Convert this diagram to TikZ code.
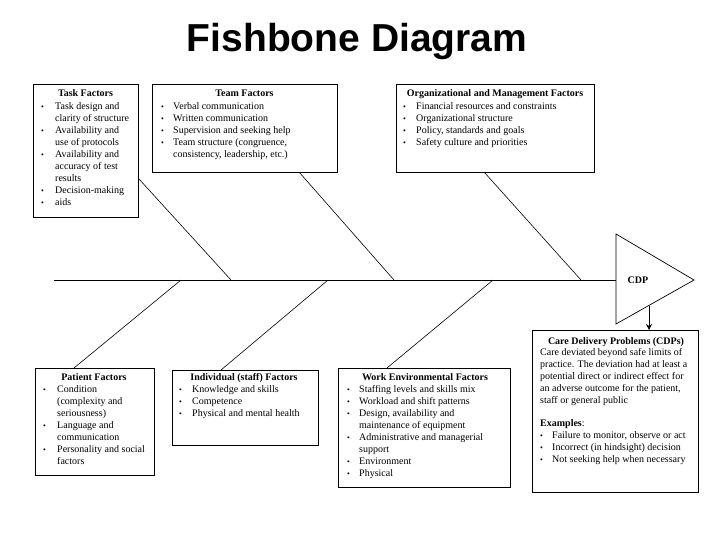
\documentclass[tikz,border=0pt]{standalone}
\usepackage{fontspec}
\setmainfont{Liberation Serif}
\newfontfamily\titlefont{Liberation Sans}
\usetikzlibrary{arrows.meta}
\newcommand\bu{{\fontsize{8}{12}\selectfont\textbullet}}
\begin{document}
\begin{tikzpicture}[x=1pt,y=-1pt,
  factorbox/.style={draw, line width=0.9pt, anchor=north west, inner sep=0pt, outer sep=0pt},
  bone/.style={line width=0.6pt},
  head/.style={anchor=base, inner sep=0pt, font=\fontsize{10}{12}\selectfont\bfseries},
  lst/.style={anchor=north west, inner sep=0pt, font=\fontsize{10}{12}\selectfont, align=left},
]
\useasboundingbox (0,0) rectangle (720,540);

% title
\node[anchor=base, inner sep=0pt, font=\titlefont\bfseries\fontsize{39}{40}\selectfont] (title) at (357,52) {Fishbone Diagram};

% spine and head
\coordinate (spinestart) at (54,280);
\coordinate (spineend) at (616,280);
\coordinate (tri1) at (616,234);
\coordinate (tip) at (694,280);
\coordinate (tri3) at (616,324);
\draw[bone] (spinestart) -- (spineend);
\draw[line width=0.7pt] (tri1) -- (tip) -- (tri3) -- cycle;
\node[font=\fontsize{10}{12}\selectfont\bfseries, inner sep=0pt] (cdplabel) at (638,280) {CDP};

% boxes
\node[factorbox, minimum width=105pt, minimum height=133pt] (task) at (33,84) {};
\node[factorbox, minimum width=185pt, minimum height=88pt] (team) at (152,84) {};
\node[factorbox, minimum width=198pt, minimum height=88pt] (org) at (396,84) {};
\node[factorbox, minimum width=119pt, minimum height=107pt] (patient) at (35,368) {};
\node[factorbox, minimum width=146pt, minimum height=75pt] (indiv) at (172,370) {};
\node[factorbox, minimum width=172pt, minimum height=119pt] (work) at (338,368) {};
\node[factorbox, minimum width=166pt, minimum height=162pt] (cdpbox) at (532,330) {};

% headings
\node[head] (taskhead) at (85.5,96.5) {Task Factors};
\node[head] (teamhead) at (244.5,96.5) {Team Factors};
\node[head] (orghead) at (495,96.5) {Organizational and Management Factors};
\node[head] (patienthead) at (94,380.5) {Patient Factors};
\node[head] (indivhead) at (244,380.5) {Individual (staff) Factors};
\node[head] (workhead) at (425,380.5) {Work Environmental Factors};
\node[head] (cdphead) at (616,344.5) {Care Delivery Problems (CDPs)};

% lists
\node[lst] (tasklist) at (41,100.6) {\begin{tabular}{@{}p{14pt}@{}l@{}}
\bu & Task design and\\
 & clarity of structure\\
\bu & Availability and\\
 & use of protocols\\
\bu & Availability and\\
 & accuracy of test\\
 & results\\
\bu & Decision-making\\
\bu & aids
\end{tabular}};

\node[lst] (teamlist) at (161,100.6) {\begin{tabular}{@{}p{12pt}@{}l@{}}
\bu & Verbal communication\\
\bu & Written communication\\
\bu & Supervision and seeking help\\
\bu & Team structure (congruence,\\
 & consistency, leadership, etc.)
\end{tabular}};

\node[lst] (orglist) at (403,100.6) {\begin{tabular}{@{}p{13pt}@{}l@{}}
\bu & Financial resources and constraints\\
\bu & Organizational structure\\
\bu & Policy, standards and goals\\
\bu & Safety culture and priorities
\end{tabular}};

\node[lst] (patientlist) at (43,383.6) {\begin{tabular}{@{}p{14pt}@{}l@{}}
\bu & Condition\\
 & (complexity and\\
 & seriousness)\\
\bu & Language and\\
 & communication\\
\bu & Personality and social\\
 & factors
\end{tabular}};

\node[lst] (indivlist) at (179,383.6) {\begin{tabular}{@{}p{13pt}@{}l@{}}
\bu & Knowledge and skills\\
\bu & Competence\\
\bu & Physical and mental health
\end{tabular}};

\node[lst] (worklist) at (347,383.6) {\begin{tabular}{@{}p{12pt}@{}l@{}}
\bu & Staffing levels and skills mix\\
\bu & Workload and shift patterns\\
\bu & Design, availability and\\
 & maintenance of equipment\\
\bu & Administrative and managerial\\
 & support\\
\bu & Environment\\
\bu & Physical
\end{tabular}};

\node[lst] (cdplist) at (540,346.6) {\begin{tabular}{@{}p{12pt}@{}l@{}}
\multicolumn{2}{@{}l@{}}{Care deviated beyond safe limits of}\\
\multicolumn{2}{@{}l@{}}{practice. The deviation had at least a}\\
\multicolumn{2}{@{}l@{}}{potential direct or indirect effect for}\\
\multicolumn{2}{@{}l@{}}{an adverse outcome for the patient,}\\
\multicolumn{2}{@{}l@{}}{staff or general public}\\[11pt]
\multicolumn{2}{@{}l@{}}{\textbf{Examples}:}\\
\bu & Failure to monitor, observe or act\\
\bu & Incorrect (in hindsight) decision\\
\bu & Not seeking help when necessary
\end{tabular}};

% bones
\coordinate (t1) at (139,179);  \coordinate (j1) at (231,280);
\coordinate (t2) at (299,172);  \coordinate (j2) at (394,280);
\coordinate (t3) at (484,172);  \coordinate (j3) at (581,280);
\coordinate (b1) at (74,368);   \coordinate (k1) at (181,280);
\coordinate (b2) at (221,370);  \coordinate (k2) at (328,280);
\coordinate (b3) at (387,368);  \coordinate (k3) at (493,280);
\draw[bone] (t1) -- (j1);
\draw[bone] (t2) -- (j2);
\draw[bone] (t3) -- (j3);
\draw[bone] (k1) -- (b1);
\draw[bone] (k2) -- (b2);
\draw[bone] (k3) -- (b3);

% arrow to CDP box
\coordinate (arrowstart) at (649,306);
\draw[line width=0.7pt, -{Stealth[length=6pt,width=6pt]}] (arrowstart) -- (arrowstart |- cdpbox.north);
\end{tikzpicture}
\end{document}
